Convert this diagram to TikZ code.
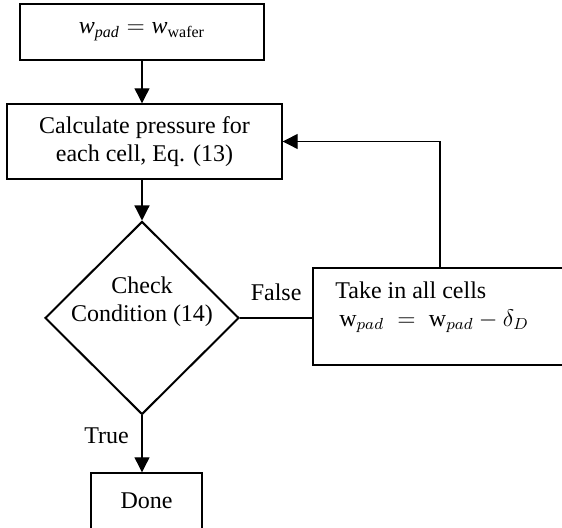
\documentclass[tikz,border=0pt]{standalone}
\usepackage{fontspec}
\setmainfont{Liberation Serif}
\usetikzlibrary{arrows.meta, shapes.geometric}

\begin{document}
\begin{tikzpicture}
        [
        x=0.5pt, y=-0.5pt,
        font=\fontsize{12}{14}\selectfont,
        box/.style={draw, rectangle, line width=0.7pt, align=center, inner sep=0pt},
        decision/.style={draw, diamond, line width=1pt, aspect=1, inner sep=0pt, minimum width=97pt, minimum height=96.5pt},
        arrow/.style={-{Triangle[width=7.5pt, length=7.5pt]}, line width=0.6pt},
        link/.style={line width=0.6pt}
        ]

        \useasboundingbox (0,0) rectangle (562,528);

        \node[box, minimum width=122pt, minimum height=28pt] (init) at (142,32) {$\mathit{w}_{\mathit{pad}} = \mathit{w}_{\mathrm{wafer}}$};
        \node[box, minimum width=137.5pt, minimum height=37.5pt] (calc) at (144.5,141.5) {Calculate pressure for\\each cell, Eq. (13)};
        \node[decision, label={[align=center, yshift=8pt]center:Check\\Condition (14)}] (check) at (142,318) {};
        \node[box, minimum width=129pt, minimum height=48.5pt, label={[anchor=north west, align=left, xshift=8pt, yshift=-3.5pt]north west:Take in all cells\\\hspace{2pt}$\mathrm{w}_{pad}\;=\;\mathrm{w}_{pad}-\delta_D$}] (update) at (442,316.5) {};
        \node[box, minimum width=55.5pt, minimum height=28pt] (done) at (146.5,501) {Done};

        \draw[arrow] (init.south) -- (init.south |- calc.north);
        \draw[arrow] (check.north |- calc.south) -- (check.north);
        \draw[link] (check.east) -- node[above, yshift=5pt] {False} (check.east -| update.west);
        \draw[arrow] ([xshift=-1pt]update.north) |- (calc.east);
        \draw[arrow] (check.south) -- node[left, pos=0.35, xshift=-3pt] {True} (check.south |- done.north);

    \end{tikzpicture}
\end{document}
